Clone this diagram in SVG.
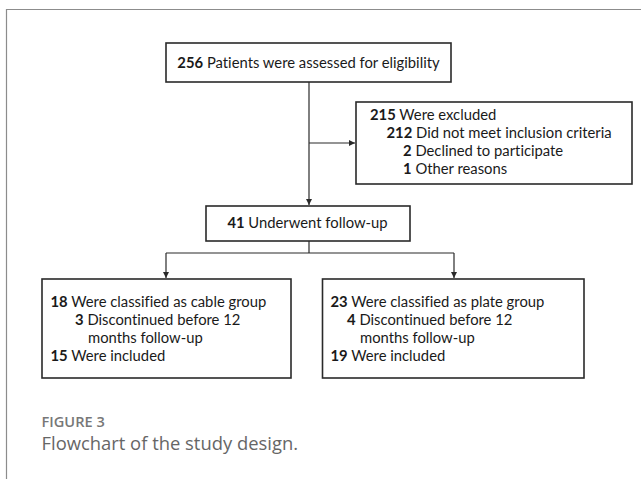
<svg xmlns="http://www.w3.org/2000/svg" width="641" height="479" viewBox="0 0 641 479">
<defs>
<style>
.frame{stroke:#8c8c8c;stroke-width:1.2;fill:none}
.box{fill:#fff;stroke:#2a2a2a;stroke-width:1.6}
.ln{stroke:#2a2a2a;stroke-width:1.2;fill:none}
.t{font-family:Lato,"Liberation Sans",sans-serif;font-size:14.8px;fill:#1a1a1a;font-variant-ligatures:none}
.b{font-weight:bold}
.fig{font-family:"Open Sans","Liberation Sans",sans-serif;font-size:14.6px;font-weight:600;fill:#777}
.cap{font-family:"Open Sans","Liberation Sans",sans-serif;font-size:18.4px;fill:#666}
</style>
<marker id="ah" viewBox="0 0 8 8" refX="8" refY="4" markerWidth="6" markerHeight="6" markerUnits="userSpaceOnUse" orient="auto">
<path d="M0,0 L8,4 L0,8 Z" fill="#2a2a2a"/>
</marker>
</defs>
<rect width="641" height="479" fill="#fff"/>
<path class="frame" d="M641,9.5 H6.5 V479"/>
<g id="connectors">
<path class="ln" d="M309,82 V205" marker-end="url(#ah)"/>
<path class="ln" d="M309,143 H355" marker-end="url(#ah)"/>
<path class="ln" d="M309,241 V253 M166,253 H454"/>
<path class="ln" d="M166,253 V278" marker-end="url(#ah)"/>
<path class="ln" d="M454,253 V278" marker-end="url(#ah)"/>
</g>
<g id="n-assessed">
<rect class="box" x="166" y="43" width="285" height="39"/>
<text class="t" x="308.5" y="68" text-anchor="middle"><tspan class="b">256</tspan> Patients were assessed for eligibility</text>
</g>
<g id="n-excluded">
<rect class="box" x="356" y="102" width="276" height="82"/>
<text class="t" x="370" y="120"><tspan class="b">215</tspan> Were excluded</text>
<text class="t" x="386.5" y="138"><tspan class="b">212</tspan> Did not meet inclusion criteria</text>
<text class="t" x="403" y="156"><tspan class="b">2</tspan> Declined to participate</text>
<text class="t" x="403" y="174"><tspan class="b">1</tspan> Other reasons</text>
</g>
<g id="n-followup">
<rect class="box" x="206" y="206" width="204" height="35"/>
<text class="t" x="307.5" y="228" text-anchor="middle"><tspan class="b">41</tspan> Underwent follow-up</text>
</g>
<g id="n-cable">
<rect class="box" x="42" y="279" width="249" height="99"/>
<text class="t" x="50.5" y="307"><tspan class="b">18</tspan> Were classified as cable group</text>
<text class="t" x="75" y="325"><tspan class="b">3</tspan> Discontinued before 12</text>
<text class="t" x="88" y="343">months follow-up</text>
<text class="t" x="50.5" y="361"><tspan class="b">15</tspan> Were included</text>
</g>
<g id="n-plate">
<rect class="box" x="322.5" y="279" width="261.5" height="99"/>
<text class="t" x="330.5" y="307"><tspan class="b">23</tspan> Were classified as plate group</text>
<text class="t" x="347" y="325"><tspan class="b">4</tspan> Discontinued before 12</text>
<text class="t" x="360" y="343">months follow-up</text>
<text class="t" x="330.5" y="361"><tspan class="b">19</tspan> Were included</text>
</g>
<text class="fig" x="41.5" y="427">FIGURE 3</text>
<text class="cap" x="41.5" y="450">Flowchart of the study design.</text>
</svg>
